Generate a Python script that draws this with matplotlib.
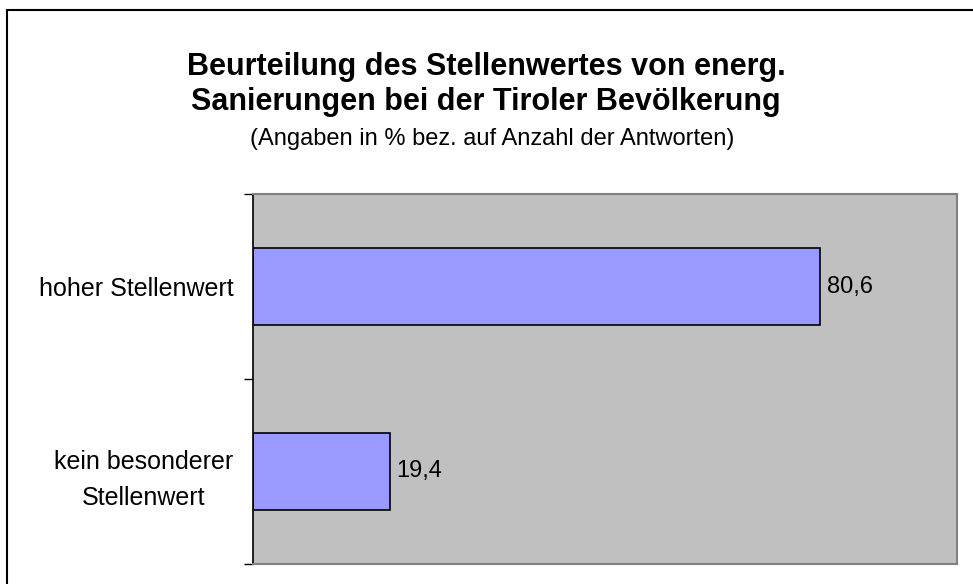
import matplotlib
matplotlib.use('Agg')
import matplotlib.pyplot as plt
from matplotlib.patches import Rectangle

plt.rcParams['font.family'] = ['Liberation Sans', 'DejaVu Sans']

categories = ['hoher Stellenwert', 'kein besonderer\nStellenwert']
values = [80.6, 19.4]
value_labels = ['80,6', '19,4']

W, H = 973, 584
fig = plt.figure(figsize=(W / 100, H / 100), dpi=100)

# outer chart border (right/bottom cut off in the original)
fig.patches.append(Rectangle((7 / W, -0.1), 1.2, 1 - 10 / H + 0.1, transform=fig.transFigure,
                             fill=False, edgecolor='black', linewidth=1.5))

ax = fig.add_axes([253 / W, 1 - 564 / H, (957 - 253) / W, (564 - 194) / H])
ax.set_facecolor('#c0c0c0')

ypos = [0, 1]
ax.barh(ypos, values, height=0.416, color='#9999ff', edgecolor='black', linewidth=1.2)
for y, v, lab in zip(ypos, values, value_labels):
    ax.text(v + 1, y, lab, va='center', ha='left', fontsize=17)

ax.set_xlim(0, 100)
ax.set_ylim(1.5, -0.5)
ax.set_yticks(ypos)
ax.set_yticklabels(categories, fontsize=18, ha='right', multialignment='center', linespacing=1.65)
ax.set_yticks([-0.5, 0.5, 1.5], minor=True)
ax.tick_params(axis='y', which='major', length=0, pad=14)
ax.tick_params(axis='y', which='minor', length=6.5, width=1, direction='out')
ax.set_xticks([])
for s in ['top', 'right', 'bottom']:
    ax.spines[s].set_color('#808080')
    ax.spines[s].set_linewidth(1.5)
ax.spines['left'].set_color('black')
ax.spines['left'].set_linewidth(1.2)

fig.text(486 / W, 1 - 67 / H, 'Beurteilung des Stellenwertes von energ.', ha='center', va='center',
         fontsize=22, fontweight='bold')
fig.text(486 / W, 1 - 102 / H, 'Sanierungen bei der Tiroler Bevölkerung', ha='center', va='center',
         fontsize=22, fontweight='bold')
fig.text(492 / W, 1 - 139 / H, '(Angaben in % bez. auf Anzahl der Antworten)', ha='center', va='center',
         fontsize=17)

fig.savefig('out.png', dpi=100)
